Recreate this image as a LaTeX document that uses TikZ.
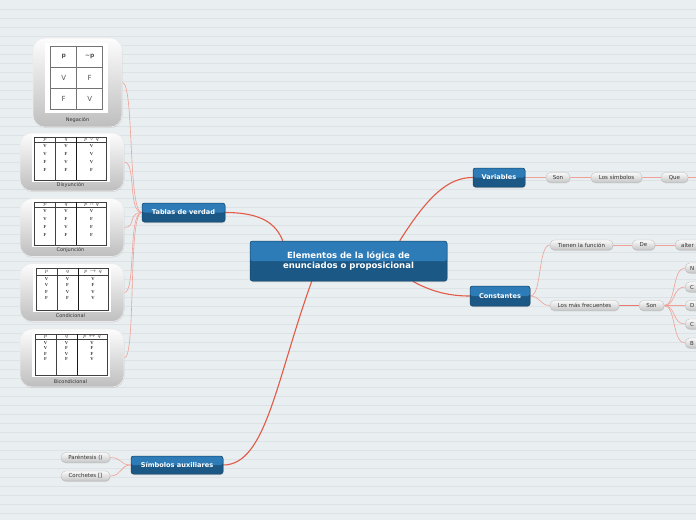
\documentclass[tikz,border=0pt]{standalone}
\usepackage{fontspec}
\newfontfamily\uifont{DejaVu Sans}
\newfontfamily\tabserif{Liberation Serif}
\usetikzlibrary{shadows,calc}
\pgfdeclarelayer{back}
\pgfdeclarelayer{conn}
\pgfsetlayers{back,conn,main}
\definecolor{bg}{HTML}{E9EEF0}
\definecolor{bgline}{HTML}{DCE2E6}
\definecolor{topA}{HTML}{2D7CB8}
\definecolor{topB}{HTML}{1C5885}
\definecolor{topE}{HTML}{164669}
\definecolor{mainred}{HTML}{E35A46}
\definecolor{subred}{HTML}{F0A197}
\definecolor{midred}{HTML}{E8796A}
\definecolor{pilltxt}{HTML}{333333}
\definecolor{pillT}{HTML}{FAFAFA}
\definecolor{pillB}{HTML}{C6C6C6}
\definecolor{pillE}{HTML}{B8B8B8}
\definecolor{imgT}{HTML}{FDFDFD}
\definecolor{imgB}{HTML}{BEBEBE}
\definecolor{tabgray}{HTML}{555555}
\tikzset{
  topic/.style={draw=topE, line width=0.5pt, fill=topB, rounded corners=2.5pt,
    text=white, font=\uifont\bfseries\fontsize{6.6}{7.5}\selectfont,
    inner sep=0pt, align=center,
    drop shadow={shadow xshift=0.6pt, shadow yshift=-1pt, opacity=0.3},
    path picture={\fill[topA] (path picture bounding box.north west) rectangle (path picture bounding box.east);}},
  maintopic/.style={topic, font=\uifont\bfseries\fontsize{8.5}{10.5}\selectfont},
  pill/.style={rounded corners=4.5pt, minimum height=10pt, inner sep=0pt,
    top color=pillT, bottom color=pillB, draw=pillE, line width=0.3pt,
    font=\uifont\fontsize{5.5}{6}\selectfont, text=pilltxt,
    drop shadow={opacity=0.22, shadow xshift=0.4pt, shadow yshift=-0.9pt}},
  cutpill/.style={pill, anchor=west, inner xsep=5pt, text width=24pt, align=left},
  imgbox/.style={rounded corners=12pt, top color=imgT, bottom color=imgB,
    draw=white!85!gray, line width=0.6pt, inner sep=0pt,
    drop shadow={opacity=0.2, shadow xshift=0.5pt, shadow yshift=-1pt}},
  imglabel/.style={font=\uifont\fontsize{5}{6}\selectfont, text=pilltxt, inner sep=0pt},
  mainline/.style={draw=mainred, line width=1.1pt},
  subline/.style={draw=subred, line width=0.6pt},
  midline/.style={draw=midred, line width=0.7pt},
  tabtxt/.style={font=\tabserif\bfseries\fontsize{4.6}{5}\selectfont, text=black!80, inner sep=0pt},
  negtxt/.style={font=\uifont\fontsize{7}{8}\selectfont, text=tabgray, inner sep=0pt},
  neghead/.style={font=\uifont\bfseries\fontsize{6}{7}\selectfont, text=tabgray, inner sep=0pt},
}
% #1 x0, #2 y0, #3 height, #4 header line, #5 first row, #6 gap, #7 header 3, #8 rows
\newcommand\tvtab[8]{%
  \begin{scope}[shift={(#1,#2)}]
    \fill[white] (-3,-2) rectangle (75,#3+2);
    \draw[black!75, line width=0.45pt] (0,0) rectangle (72,#3)
      (0,#4) -- (72,#4) (21,0) -- (21,#3);
    \draw[black!90, line width=0.7pt] (42,0) -- (42,#3);
    \node[tabtxt] at (10.5,#4/2) {$p$};
    \node[tabtxt] at (31.5,#4/2) {$q$};
    \node[tabtxt] at (57,#4/2) {#7};
    \foreach \a/\b/\c [count=\i] in {#8} {
      \node[tabtxt] at (10.5,#5+\i*#6-#6) {\a};
      \node[tabtxt] at (31.5,#5+\i*#6-#6) {\b};
      \node[tabtxt] at (57,#5+\i*#6-#6) {\c};
    }
  \end{scope}}
\begin{document}
\begin{tikzpicture}[x=1pt,y=-1pt]
\useasboundingbox (0,0) rectangle (696,520);
\clip (0,0) rectangle (696,520);
\begin{pgfonlayer}{back}
  \fill[bg] (0,0) rectangle (696,520);
  \foreach \k in {1,...,57} \draw[bgline, line width=0.5pt] (0,\k*9) -- (696,\k*9);
\end{pgfonlayer}

% main topics
\node[maintopic, minimum width=197pt, minimum height=40pt] (main) at (348.5,261)
  {Elementos de la lógica de\\enunciados o proposicional};
\node[topic, minimum width=52pt, minimum height=19pt] (var) at (499,177.5) {Variables};
\node[topic, minimum width=60pt, minimum height=20pt] (cons) at (500,296) {Constantes};
\node[topic, minimum width=83pt, minimum height=19pt] (tab) at (183.5,212.5) {Tablas de verdad};
\node[topic, minimum width=92pt, minimum height=18pt] (sim) at (177,465) {Símbolos auxiliares};

% right side pills
\node[pill, minimum width=24pt] (son1) at (558,177.5) {Son};
\node[pill, minimum width=51pt] (lsim) at (616.5,177.5) {Los símbolos};
\node[pill, minimum width=27pt] (que) at (674.5,177.5) {Que};
\coordinate (queend) at (700,177.5);
\node[pill, minimum width=63pt] (tien) at (581.5,245) {Tienen la función};
\node[pill, minimum width=23pt] (de) at (643.5,245) {De};
\node[cutpill, inner xsep=6pt] (alt) at (675,245) {alter};
\node[pill, minimum width=69pt] (lmf) at (584.5,305.5) {Los más frecuentes};
\node[pill, minimum width=25pt] (son2) at (651.5,305.5) {Son};
\node[cutpill] (cN) at (685,268) {N};
\node[cutpill] (cC1) at (685,287) {C};
\node[cutpill] (cD) at (685,305.5) {D};
\node[cutpill] (cC2) at (685,324) {C};
\node[cutpill] (cB) at (685,343) {B};

% left pills
\node[pill, minimum width=49pt] (par) at (85.5,457.5) {Paréntesis ()};
\node[pill, minimum width=49pt] (cor) at (85.5,476) {Corchetes []};

% image boxes
\node[imgbox, minimum width=89pt, minimum height=89pt] (neg) at (77.5,82.5) {};
\node[imgbox, minimum width=104pt, minimum height=58pt] (dis) at (72,162) {};
\node[imgbox, minimum width=104pt, minimum height=58pt] (con) at (72,227.5) {};
\node[imgbox, minimum width=104pt, minimum height=58pt] (cond) at (72,292.5) {};
\node[imgbox, minimum width=104pt, minimum height=58pt] (bic) at (72,358) {};

\node[imglabel] (negl) at (77.5,120) {Negación};
\node[imglabel] (disl) at (70.5,185.5) {Disyunción};
\node[imglabel] (conl) at (70.5,250.5) {Conjunción};
\node[imglabel] (condl) at (70.5,316) {Condicional};
\node[imglabel] (bicl) at (70.5,381.5) {Bicondicional};

% negation table
\fill[white] (45,43) rectangle (108,113);
\draw[black!55, line width=0.5pt] (50.7,46) rectangle (102.7,109)
  (76.7,46) -- (76.7,109) (50.7,67) -- (102.7,67) (50.7,88) -- (102.7,88);
\node[neghead] (n1) at (63.7,56.5) {p};
\node[neghead] (n2) at (89.7,56.5) {\char"223C p};
\node[negtxt] (n3) at (63.7,77.5) {V};
\node[negtxt] (n4) at (89.7,77.5) {F};
\node[negtxt] (n5) at (63.7,98.5) {F};
\node[negtxt] (n6) at (89.7,98.5) {V};

% truth tables
\tvtab{34.5}{137}{43}{5.5}{8.7}{8}{$p\vee q$}{V/V/V,V/F/V,F/V/V,F/F/F}
\tvtab{34.5}{202}{43}{5.5}{8.7}{8}{$p\wedge q$}{V/V/V,V/F/F,F/V/F,F/F/F}
\tvtab{36}{268}{42}{7}{11}{6.4}{$p\rightarrow q$}{V/V/V,V/F/F,F/V/V,F/F/V}
\tvtab{35}{334}{41}{5}{9}{5.4}{$p\leftrightarrow q$}{V/V/V,V/F/F,F/V/F,F/F/V}

% connectors
\begin{pgfonlayer}{conn}
  \draw[mainline] (tab.east) .. controls (262,212.5) and (276,224) .. ($(main.north west)+(33,0)$);
  \draw[mainline] ($(main.north west)+(150,0)$) .. controls (428,196) and (448,177.5) .. (var.west);
  \draw[mainline] ($(main.south west)+(163,0)$) .. controls (432,292) and (450,296) .. (cons.west);
  \draw[mainline] ($(main.south west)+(62,0)$) .. controls (276,380) and (266,465) .. (sim.east);

  \draw[subline] (var.east) -- (son1.west);
  \draw[subline] (son1.east) -- (lsim.west);
  \draw[subline] (lsim.east) -- (que.west);
  \draw[subline] (que.east) -- (queend);

  \draw[subline] (cons.east) .. controls (542,296) and (538,245) .. (tien.west);
  \draw[subline] (cons.east) .. controls (540,296) and (540,305.5) .. (lmf.west);
  \draw[subline] (tien.east) -- (de.west);
  \draw[subline] (de.east) -- (alt.west);
  \draw[midline] (lmf.east) -- (son2.west);
  \foreach \c in {cN,cC1,cD,cC2,cB}
    \draw[subline] (son2.east) .. controls ($(son2.east)+(12,0)$) and ($(\c.west)+(-13,0)$) .. (\c.west);

  \draw[subline] (sim.west) .. controls (120,465) and (122,457.5) .. (par.east);
  \draw[subline] (sim.west) .. controls (120,465) and (122,476) .. (cor.east);

  \foreach \b in {neg,dis,con,cond,bic}
    \draw[subline] (tab.west) .. controls ($(tab.west)+(-14,0)$) and ($(\b.east)+(12,0)$) .. (\b.east);
\end{pgfonlayer}
\end{tikzpicture}
\end{document}
